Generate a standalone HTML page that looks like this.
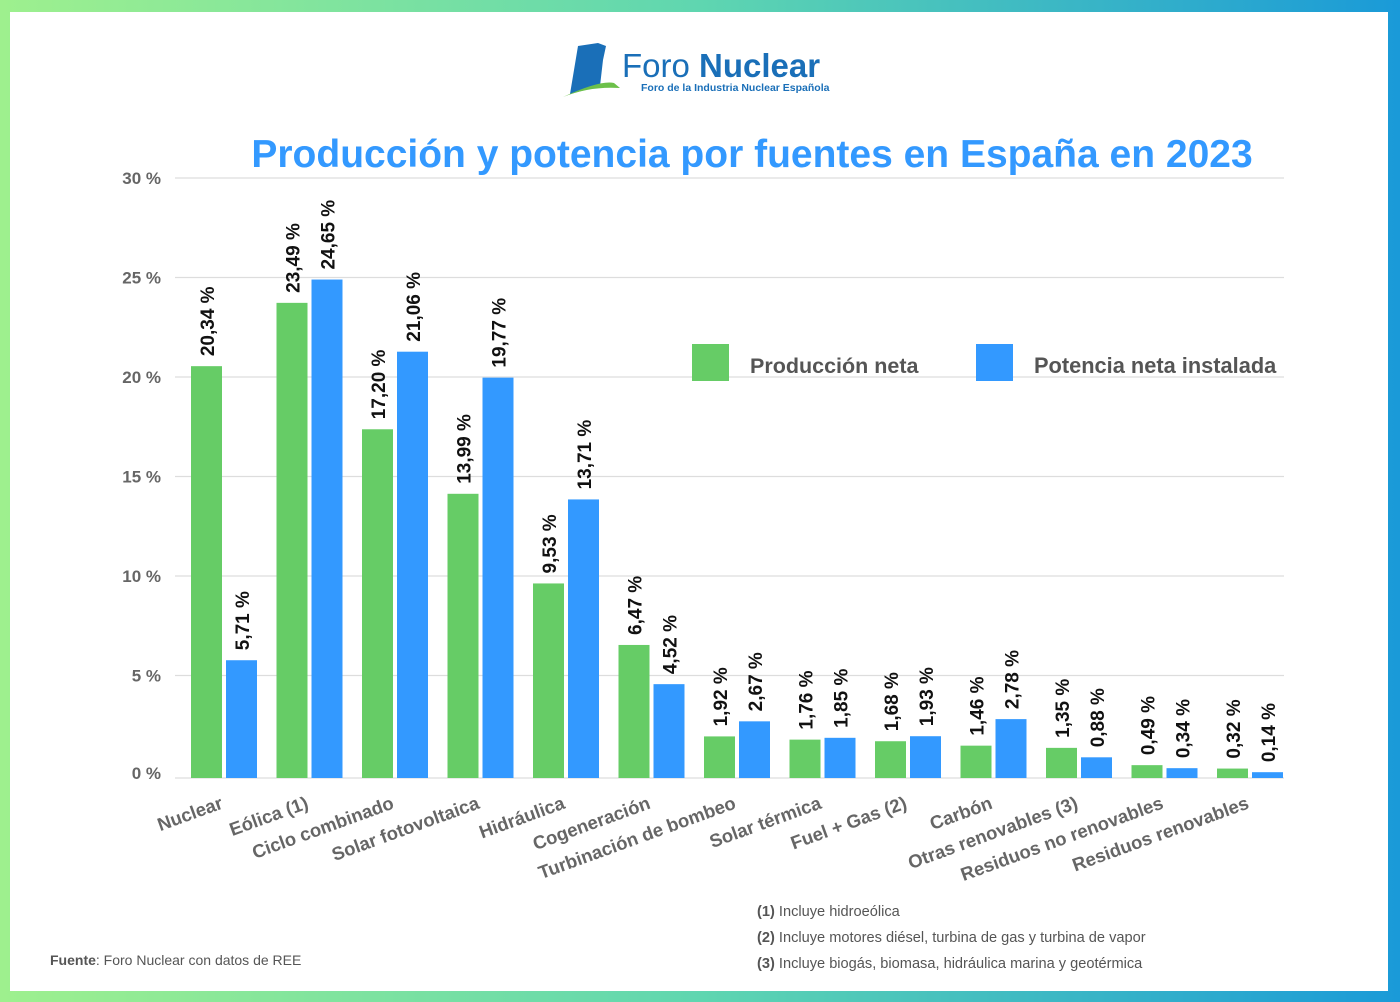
<!DOCTYPE html>
<html><head><meta charset="utf-8"><style>
html,body{margin:0;padding:0;background:#fff}
#frame{position:absolute;left:0;top:0;width:1400px;height:1002px;background:linear-gradient(90deg,#9ef08e,#5fd6b0 50%,#1a9ad8);}
#inner{position:absolute;left:10px;top:12px;width:1378px;height:979px;background:#fff}
svg text{font-family:"Liberation Sans",sans-serif}
</style></head><body>
<div id="frame"></div>
<div id="inner"></div>
<svg id="chart" width="1400" height="1002" style="position:absolute;left:0;top:0">
 <g>
  <path d="M578 46 L598 43 L606 46 L603 60 L600 86 L570 94 Z" fill="#1a6fb8"/>
  <path d="M563 97 Q600 80 614 83 L620 88 Q590 86 563 97 Z" fill="#6cc04a"/>
  <text x="622" y="77" font-size="33" fill="#1a6fb8">Foro <tspan font-weight="bold">Nuclear</tspan></text>
  <text x="641" y="91" font-size="10.5" fill="#1a6fb8" font-weight="bold">Foro de la Industria Nuclear Española</text>
 </g>
 <text x="752" y="167" text-anchor="middle" font-size="39" font-weight="bold" fill="#3399ff">Producción y potencia por fuentes en España en 2023</text>
 <g id="grid"></g><g id="bars"></g><g id="labels"></g>
 <g>
  <rect x="692" y="344" width="37" height="37" fill="#66cc66"/>
  <text x="750" y="373" font-size="21.5" font-weight="bold" fill="#555">Producción neta</text>
  <rect x="976" y="344" width="37" height="37" fill="#3399ff"/>
  <text x="1034" y="373" font-size="21.8" font-weight="bold" fill="#555">Potencia neta instalada</text>
 </g>
 <g font-size="14.6" fill="#555">
  <text x="757" y="916"><tspan font-weight="bold">(1)</tspan> Incluye hidroeólica</text>
  <text x="757" y="942"><tspan font-weight="bold">(2)</tspan> Incluye motores diésel, turbina de gas y turbina de vapor</text>
  <text x="757" y="968"><tspan font-weight="bold">(3)</tspan> Incluye biogás, biomasa, hidráulica marina y geotérmica</text>
  <text x="50" y="965" font-size="14"><tspan font-weight="bold">Fuente</tspan>: Foro Nuclear con datos de REE</text>
 </g>
</svg>
<script>
const categories=["Nuclear","Eólica (1)","Ciclo combinado","Solar fotovoltaica","Hidráulica","Cogeneración","Turbinación de bombeo","Solar térmica","Fuel + Gas (2)","Carbón","Otras renovables (3)","Residuos no renovables","Residuos renovables"];
const produccion=[20.34,23.49,17.20,13.99,9.53,6.47,1.92,1.76,1.68,1.46,1.35,0.49,0.32];
const potencia=[5.71,24.65,21.06,19.77,13.71,4.52,2.67,1.85,1.93,2.78,0.88,0.34,0.14];
const yTicks=[0,5,10,15,20,25,30];
const NS="http://www.w3.org/2000/svg";
const y0=775,pxPer=19.9,barPx=20.1;
const y=v=>y0-v*pxPer;
const yb=v=>y0-v*barPx;
const x=i=>191+i*85.5;
function mk(t,a,p){const e=document.createElementNS(NS,t);for(const k in a)e.setAttribute(k,a[k]);p.appendChild(e);return e;}
const fmt=v=>v.toFixed(2).replace('.',',')+' %';
const grid=document.getElementById('grid'),bars=document.getElementById('bars'),labels=document.getElementById('labels');
yTicks.forEach(t=>{
 const l=mk('line',{x1:175,x2:1284,y1:y(t)+(t===0?3:0),y2:y(t)+(t===0?3:0),stroke:'#ddd','stroke-width':1.3},grid);
 
 
 const tx=mk('text',{x:161,y:y(t)+6+(t===0?-2:0),'text-anchor':'end','font-size':17,'font-weight':'bold',fill:'#666'},grid);
 tx.textContent=t+' %';
 
 
});
categories.forEach((c,i)=>{
 [[produccion,'#66cc66',0],[potencia,'#3399ff',35]].forEach(([arr,col,off])=>{
  const v=arr[i],bx=x(i)+off,top=yb(v);
  const r=mk('rect',{x:bx,y:top,width:31,height:778-top,fill:col},bars);
  
  
  const t=mk('text',{transform:`translate(${bx+23},${top-10}) rotate(-90)`,'font-size':19,'font-weight':'bold',fill:'#111'},labels);
  t.textContent=fmt(v);
  
  
 });
 const cl=mk('text',{transform:`translate(${x(i)+33},${808}) rotate(-20)`,'text-anchor':'end','font-size':18.5,'font-weight':'bold',fill:'#666'},labels);
 cl.textContent=c;
 
 
});
</script>
</body></html>
